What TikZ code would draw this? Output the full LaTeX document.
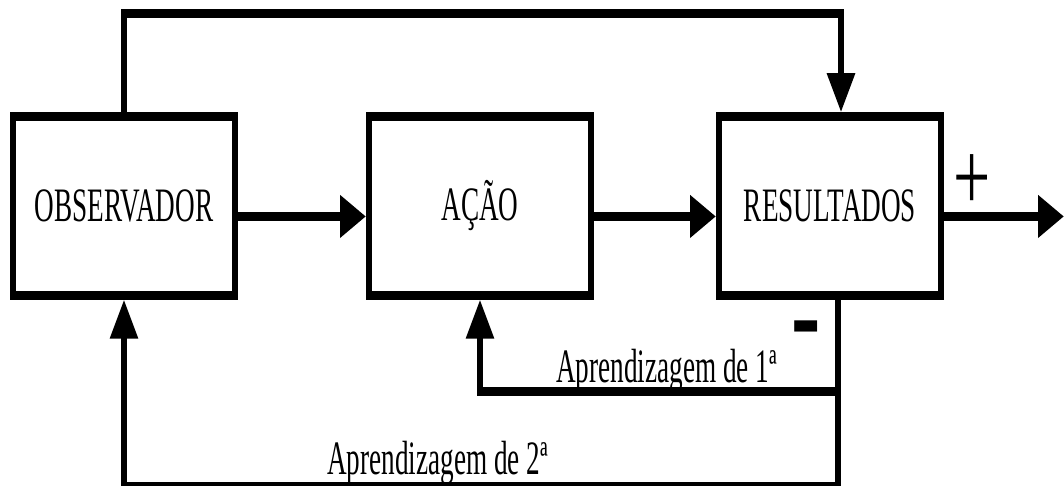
\documentclass[tikz,border=0pt]{standalone}
\usepackage{fontspec}
\newfontfamily\figfont[FakeStretch=0.85]{Liberation Serif}
\newfontfamily\signfont{Liberation Serif}
\usetikzlibrary{positioning,arrows.meta}

\begin{document}
\begin{tikzpicture}[
            x=1pt, y=1pt,
            box/.style={draw, rectangle, line width=6pt, minimum width=222pt, minimum height=119pt, inner sep=0pt, font=\figfont\fontsize{32}{36}\selectfont},
            flow/.style={draw, line width=6pt, -{Triangle[length=26pt,width=27pt]}},
            tag/.style={inner sep=0pt, font=\figfont\fontsize{32}{36}\selectfont}
        ]
        \useasboundingbox (0,0) rectangle (1064,-486);
        \begin{scope}[transform canvas={yscale=1.5}]
        \node[box] (OBS) at (124,-137.3) {OBSERVADOR};
        \node[box, right=128pt of OBS] (ACAO) {AÇÃO};
        \node[box, right=122pt of ACAO] (RES) {RESULTADOS};
        \coordinate (top) at (0,-9);
        \coordinate (low1) at (0,-261.3);
        \coordinate (low2) at (0,-324);
        \coordinate (out) at (1064,0);
        \draw[flow] ([yshift=-7pt]OBS.east) -- ([yshift=-7pt]ACAO.west);
        \draw[flow] ([yshift=-7pt]ACAO.east) -- ([yshift=-7pt]RES.west);
        \draw[flow] ([yshift=-7pt]RES.east) -- ([yshift=-7pt]RES.east -| out);
        \draw[flow] (OBS.north) -- (OBS.north |- top) -| ([xshift=11pt]RES.north);
        \draw[flow] ([xshift=8pt]RES.south) -- ([xshift=8pt]RES.south |- low2) -| (OBS.south);
        \draw[flow] ([xshift=8pt]RES.south |- low1) -| (ACAO.south);
        \node[tag, anchor=base east] (L1) at (777,-255.3) {Aprendizagem de 1ª};
        \node[tag, anchor=base west] (L2) at (327,-316) {Aprendizagem de 2ª};
        \node[inner sep=0pt, font=\signfont\fontsize{66}{66}\selectfont] (plus) at (972,-122) {+};
        \node[inner sep=0pt, anchor=base, font=\signfont\bfseries\fontsize{88}{88}\selectfont] (minus) at (806,-238) {-};
        \end{scope}
    \end{tikzpicture}
\end{document}
